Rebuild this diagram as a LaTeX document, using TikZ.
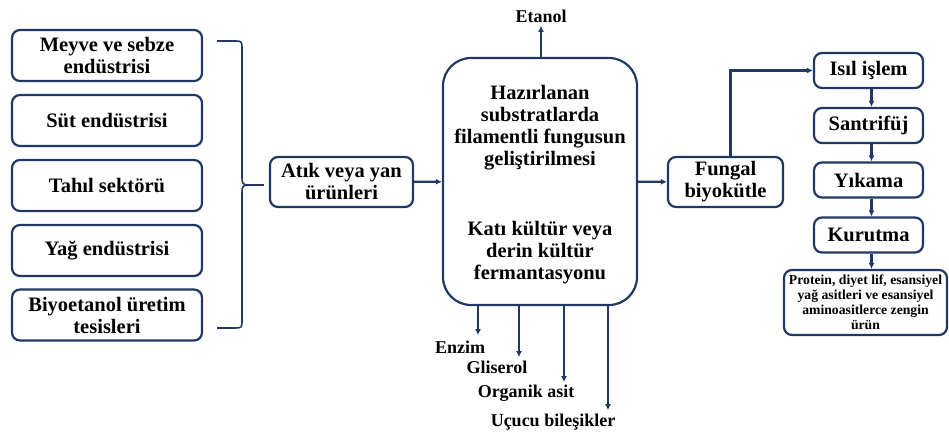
\documentclass[tikz,border=0pt]{standalone}
\usepackage{fontspec}
\setmainfont{Liberation Serif}[BoldFont={Liberation Serif Bold}]
\newfontfamily\tnr{Liberation Serif}[BoldFont={Liberation Serif Bold}]
\usetikzlibrary{arrows.meta}
\definecolor{navy}{RGB}{32,56,100}
\begin{document}
\begin{tikzpicture}[x=1pt,y=-1pt,
 box/.style={draw=navy, line width=2.2pt, rounded corners=8pt, align=center, font=\tnr\bfseries\fontsize{20.5}{22}\selectfont, inner sep=0pt},
 big/.style={align=center, font=\tnr\bfseries\fontsize{20.5}{22}\selectfont, inner sep=0pt},
 arr/.style={draw=navy, line width=2.2pt, -{Latex[length=6pt,width=6pt]}},
 lbl/.style={font=\tnr\bfseries\fontsize{18}{20}\selectfont, inner sep=0pt}]
\useasboundingbox (0,0) rectangle (949,433);
% left boxes
\node[box, minimum width=190pt, minimum height=51pt] (b1) at (107,55.5) {Meyve ve sebze\\endüstrisi};
\node[box, minimum width=190pt, minimum height=51pt] (b2) at (107,120.5) {Süt endüstrisi};
\node[box, minimum width=190pt, minimum height=51pt] (b3) at (107,185.5) {Tahıl sektörü};
\node[box, minimum width=190pt, minimum height=51pt] (b4) at (107,250.5) {Yağ endüstrisi};
\node[box, minimum width=190pt, minimum height=51pt] (b5) at (107,315) {Biyoetanol üretim\\tesisleri};
% brace
\coordinate (bt) at (217,41);
\coordinate (bb) at (217,328);
\coordinate (tip) at (248,185);
\draw[navy, line width=1.6pt] (bt) -- (236,41) .. controls (241,41) and (242,42) .. (242,47) -- (242,178)
  .. controls (242,183) and (243,185) .. (tip) .. controls (243,185) and (242,187) .. (242,192) -- (242,322)
  .. controls (242,327) and (241,328) .. (236,328) -- (bb);
% atik
\node[box, minimum width=143pt, minimum height=50pt] (atik) at (341.5,182) {Atık veya yan\\ürünleri};
\draw[navy, line width=1.6pt] (tip) -- ([xshift=-5pt]atik.west |- tip);
% main
\node[draw=navy, line width=2.2pt, rounded corners=28pt, minimum width=194pt, minimum height=247pt, inner sep=0pt] (main) at (540,181.5) {};
\node[big] (t1) at (540,128) {Hazırlanan\\substratlarda\\filamentli fungusun\\geliştirilmesi};
\node[big] (t2) at (540,253) {Katı kültür veya\\derin kültür\\fermantasyonu};
\draw[arr] (atik) -- (main);
% etanol
\node[lbl] (etanol) at (541,16) {Etanol};
\draw[arr] ([xshift=1pt]main.north) -- ++(0,-31);
% bottom outputs
\node[lbl] (enzim) at (460,347) {Enzim};
\node[lbl] (glis) at (497,367) {Gliserol};
\node[lbl] (org) at (526,393) {Organik asit};
\node[lbl] (ucu) at (553,422) {Uçucu bileşikler};
\draw[arr] ([xshift=-62pt]main.south) -- ++(0,29);
\draw[arr] ([xshift=-21pt]main.south) -- ++(0,51);
\draw[arr] ([xshift=24pt]main.south) -- ++(0,76);
\draw[arr] ([xshift=68pt]main.south) -- ++(0,104);
% fungal
\node[box, minimum width=115pt, minimum height=50pt] (fung) at (725.5,182) {Fungal\\biyokütle};
\draw[arr] (main) -- (fung);
% right column
\node[box, minimum width=109pt, minimum height=35pt] (isil) at (868.5,70.5) {Isıl işlem};
\node[box, minimum width=109pt, minimum height=35pt] (sant) at (868.5,125.5) {Santrifüj};
\node[box, minimum width=109pt, minimum height=35pt] (yik) at (868.5,180) {Yıkama};
\node[box, minimum width=109pt, minimum height=35pt] (kur) at (868.5,235) {Kurutma};
\node[box, minimum width=163pt, minimum height=65pt, font=\tnr\bfseries\fontsize{13.7}{15}\selectfont] (prod) at (865.5,302.5) {Protein, diyet lif, esansiyel\\yağ asitleri ve esansiyel\\aminoasitlerce zengin\\ürün};
\draw[arr] ([xshift=5pt]fung.north) |- (isil.west);
\draw[arr] ([xshift=3pt]isil.south) -- ([xshift=3pt]sant.north);
\draw[arr] ([xshift=3pt]sant.south) -- ([xshift=3pt]yik.north);
\draw[arr] ([xshift=3pt]yik.south) -- ([xshift=3pt]kur.north);
\draw[arr] ([xshift=3pt]kur.south) -- ([xshift=6pt]prod.north);
\end{tikzpicture}
\end{document}
